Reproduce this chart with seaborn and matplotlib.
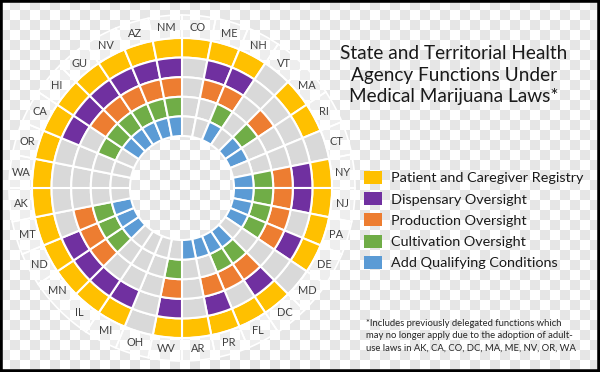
import numpy as np
import pandas as pd
import matplotlib
matplotlib.use("Agg")
import matplotlib.pyplot as plt
import seaborn as sns
from matplotlib.patches import Patch, Rectangle
from matplotlib.colors import ListedColormap

# ---------------- data ----------------
states = ["CO", "ME", "NH", "VT", "MA", "RI", "CT", "NY", "NJ", "PA", "DE", "MD", "DC", "FL", "PR", "AR",
          "WV", "OH", "MI", "IL", "MN", "ND", "MT", "AK", "WA", "OR", "CA", "HI", "GU", "NV", "AZ", "NM"]
registry    = [1, 1, 1, 0, 1, 1, 0, 1,  1, 1, 1, 0, 1, 1, 1, 1,  1, 0, 1, 1, 1, 1, 1, 1,  1, 1, 1, 1, 1, 1, 1, 1]
dispensary  = [0, 1, 1, 0, 0, 0, 0, 1,  1, 0, 1, 0, 1, 0, 1, 0,  1, 0, 1, 1, 1, 1, 0, 0,  0, 0, 1, 1, 1, 1, 1, 1]
production  = [0, 1, 1, 0, 1, 0, 0, 1,  1, 1, 1, 0, 1, 1, 1, 0,  1, 0, 0, 0, 1, 1, 1, 0,  0, 0, 0, 1, 1, 1, 1, 1]
cultivation = [0, 0, 1, 0, 1, 0, 0, 1,  1, 1, 1, 0, 1, 1, 0, 0,  1, 0, 0, 0, 1, 1, 1, 0,  0, 0, 1, 1, 1, 1, 1, 1]
conditions  = [0, 0, 1, 0, 1, 1, 0, 1,  1, 1, 1, 0, 1, 1, 1, 1,  0, 0, 0, 0, 1, 1, 1, 0,  0, 0, 0, 1, 1, 1, 1, 1]

functions = ["Patient and Caregiver Registry", "Dispensary Oversight", "Production Oversight",
             "Cultivation Oversight", "Add Qualifying Conditions"]
series = [registry, dispensary, production, cultivation, conditions]
colors = ["#FFC000", "#7030A0", "#ED7D31", "#70AD47", "#5B9BD5"]
absent = "#D9D9D9"

title = "State and Territorial Health\nAgency Functions Under\nMedical Marijuana Laws*"
footnote = ("*Includes previously delegated functions which\n"
            "may no longer apply due to the adoption of adult-\n"
            "use laws in AK, CA, CO, DC, MA, ME, NV, OR, WA")

df = pd.DataFrame({f: v for f, v in zip(functions, series)}, index=states)

# ---------------- style ----------------
sns.set_theme(style="white")
plt.rcParams["font.family"] = ["Lato", "DejaVu Sans"]
palette = sns.color_palette(colors)

W, H = 600, 372
fig = plt.figure(figsize=(W / 100, H / 100), dpi=100)

# transparent-look checkerboard background
bg = fig.add_axes([0, 0, 1, 1])
sq = 10
pattern = np.add.outer(np.arange(H // sq + 2), np.arange(W // sq + 1)) % 2
bg.imshow(pattern, cmap=ListedColormap(["white", "#E6E6E6"]), interpolation="nearest",
          extent=(0, (W // sq + 1) * sq, (H // sq + 2) * sq, 0), aspect="auto")
bg.set_xlim(0, W)
bg.set_ylim(H, 0)
bg.set_axis_off()

# polar axes: centre at (182,188) px, radius units = px
cx, cy, R = 182, 188, 180
ax = fig.add_axes([(cx - R) / W, (H - cy - R) / H, 2 * R / W, 2 * R / H], projection="polar")
ax.set_theta_zero_location("N")
ax.set_theta_direction(-1)
ax.set_ylim(0, R)
ax.set_axis_off()

n = len(states)
wd = 2 * np.pi / n
theta = np.arange(n) * wd + wd / 2

inner = 52.0
ring_w = 19.6
# rings from outside (registry) to inside (conditions)
for k, f in enumerate(functions):
    bottom = inner + (len(functions) - 1 - k) * ring_w
    cols = [palette[k] if v else absent for v in df[f]]
    ax.bar(theta, ring_w, width=wd, bottom=bottom, color=cols,
           edgecolor="white", linewidth=1.5, align="center")

# label ring
outer = inner + len(functions) * ring_w
ax.bar(theta, 23, width=wd, bottom=outer, color=(1, 1, 1, 0.35),
       edgecolor="white", linewidth=1.2, align="center")
for t, s in zip(theta, states):
    ax.text(t, outer + 11.5, s, ha="center", va="center", fontsize=7.9, color="#404040")

# title
fig.text(454 / W, 1 - 75 / H, title, ha="center", va="center", fontsize=13.7,
         linespacing=1.3, color="#1A1A1A")

# legend
handles = [Patch(facecolor=c, edgecolor="none") for c in palette]
fig.legend(handles, functions, loc="upper left", bbox_to_anchor=(364 / W, 1 - 171 / H),
           frameon=False, fontsize=10.4, handlelength=1.24, handleheight=1.0,
           handletextpad=0.65, labelspacing=0.54, borderaxespad=0, borderpad=0,
           labelcolor="#1A1A1A")

# footnote
fig.text(366 / W, 1 - 319 / H, footnote, ha="left", va="top", fontsize=6.8,
         linespacing=1.45, color="#262626")

# frame
fig.add_artist(Rectangle((0, 0), 1, 1, transform=fig.transFigure, fill=False,
                         edgecolor="black", linewidth=4))

fig.savefig("out.png", dpi=100)
